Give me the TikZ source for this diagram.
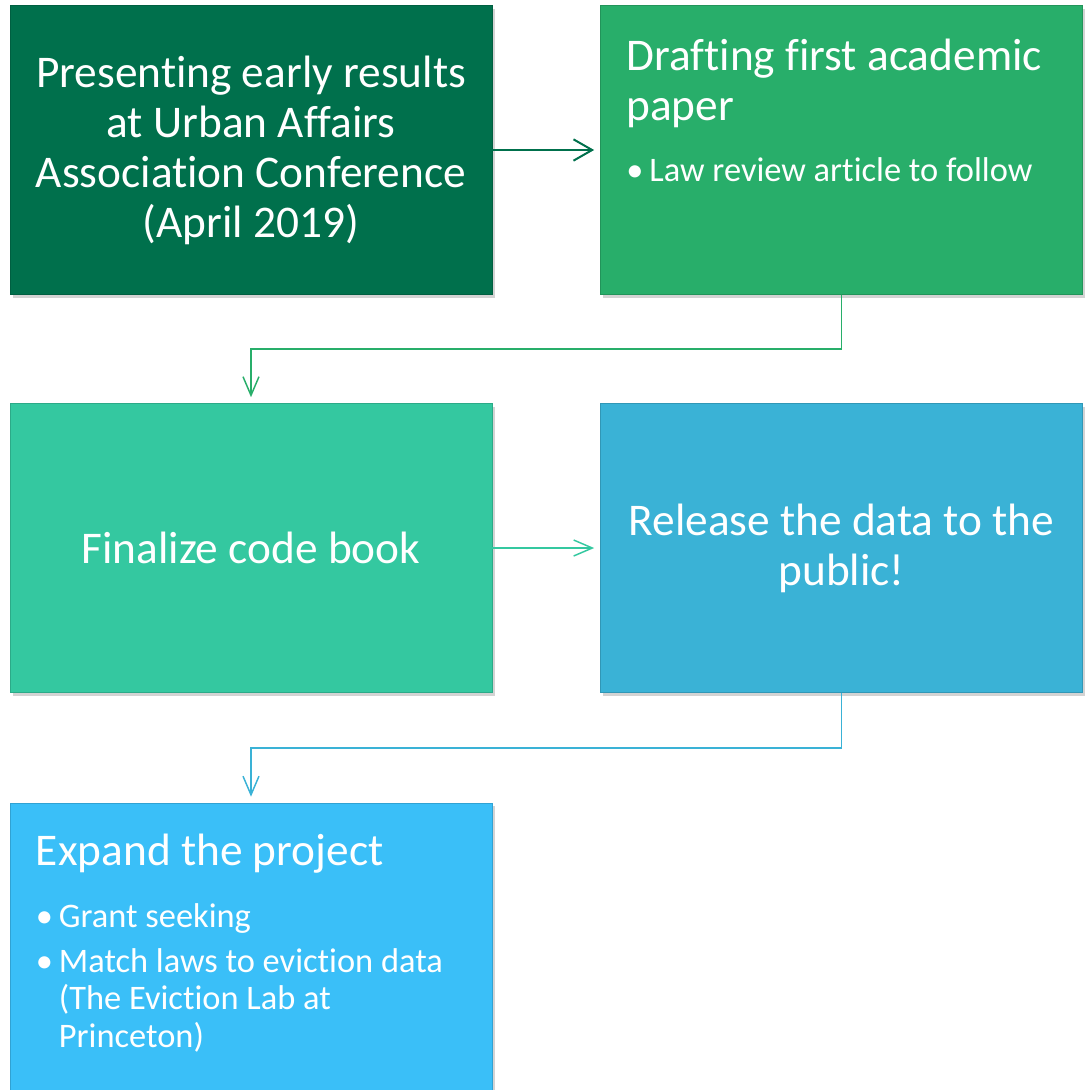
\documentclass[tikz,border=0pt]{standalone}
\usepackage{fontspec}
\setmainfont{Carlito}[Ligatures={NoCommon}]
\usepackage{xcolor}
\usepackage{tikz}
\usetikzlibrary{arrows.meta}
\usetikzlibrary{shadows}
\tikzset{>={Straight Barb[length=14pt,width=12pt]}}

\definecolor{darkgrn}{RGB}{0,112,76}
\definecolor{midgrn}{RGB}{40,174,106}
\definecolor{tealgrn}{RGB}{52,200,160}
\definecolor{skyblu}{RGB}{58,178,214}
\definecolor{lightblu}{RGB}{58,191,248}

\newcommand{\titlefont}{\fontsize{34}{37.5}\selectfont}
\newcommand{\itemfont}{\fontsize{25.8}{28}\selectfont}
\newcommand{\bul}{\makebox[17.25pt][l]{\textbullet}}
\newcommand{\ind}{\hspace*{17.25pt}}

\begin{document}
\begin{tikzpicture}[x=0.75pt,y=-0.75pt,
    stage/.style={draw=#1!85!black, line width=0.5pt, fill=#1,
      minimum width=361.5pt, minimum height=216.75pt, inner sep=0pt,
      text=white, align=center, font=\titlefont,
      drop shadow={shadow xshift=2pt,shadow yshift=-2.5pt,opacity=0.35}},
    stagetext/.style={anchor=base west, inner sep=0pt, text=white,
      text width=340pt, align=flush left},
    link/.style={->, line width=1.1pt, shorten >=4.5pt}]
  \clip (0,0) rectangle (1088,1090);

  % the five stages
  \node[stage=darkgrn] (pres) at (251,150)
    {Presenting early results\\at Urban Affairs\\Association Conference\\(April 2019)};
  \node[stage=midgrn] (draft) at (841.5,150) {};
  \node[stage=tealgrn] (code) at (251,548) {Finalize code book};
  \node[stage=skyblu] (rel) at (841.5,548) {Release the data to the\\public!};
  \node[stage=lightblu] (expand) at (251,947.5) {};

  \node[stagetext] (drafttxt) at ([shift={(26,65)}]draft.north west)
    {{\titlefont Drafting first academic\\paper\par}\vspace{18pt}
     {\itemfont\bul Law review article to follow\par}};
  \node[stagetext] (expandtxt) at ([shift={(26,63)}]expand.north west)
    {{\titlefont Expand the project\par}\vspace{18pt}
     {\itemfont\bul Grant seeking\par}\vspace{6pt}
     {\itemfont\bul Match laws to eviction data\\\ind(The Eviction Lab at\\\ind Princeton)\par}};

  % connectors
  \draw[link, draw=darkgrn, line width=1.5pt, -{Straight Barb[length=14pt,width=16pt]}]
    (pres.east) -- (draft.west);
  \draw[link, draw=midgrn] (draft.south) -- ++(0,54) -| (code.north);
  \draw[link, draw=tealgrn] (code.east) -- (rel.west);
  \draw[link, draw=skyblu] (rel.south) -- ++(0,55) -| (expand.north);
\end{tikzpicture}
\end{document}
